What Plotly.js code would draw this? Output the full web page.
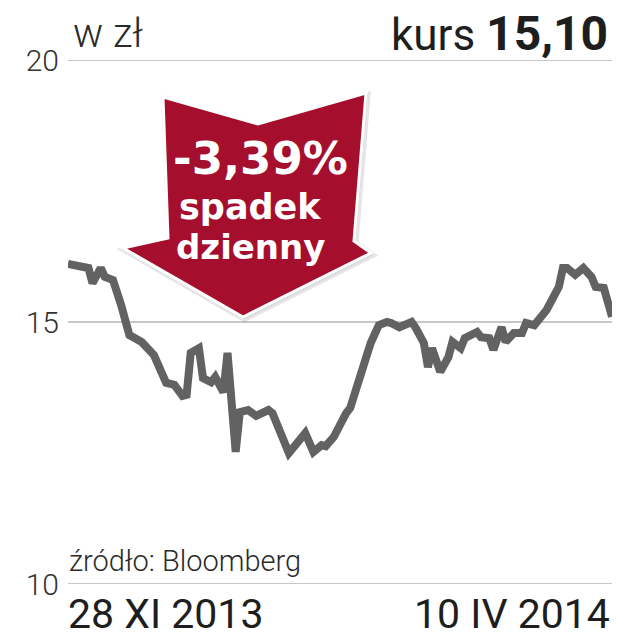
<!DOCTYPE html>
<html>
<head>
<meta charset="utf-8">
<script src="https://cdn.plot.ly/plotly-3.0.1.min.js"></script>
<style>
  html, body { margin: 0; padding: 0; background: #ffffff; }
  #chart { width: 628px; height: 640px; }
</style>
</head>
<body>
<div id="chart"></div>
<script>
// ---- data ----
const dates = [
  '2013-11-28','2013-12-01','2013-12-03','2013-12-04','2013-12-06','2013-12-07','2013-12-09','2013-12-11',
  '2013-12-13','2013-12-16','2013-12-19','2013-12-22','2013-12-24','2013-12-26','2013-12-27','2013-12-28',
  '2013-12-30','2013-12-31','2014-01-02','2014-01-03','2014-01-05','2014-01-06','2014-01-08','2014-01-09',
  '2014-01-11','2014-01-13','2014-01-16','2014-01-17','2014-01-21','2014-01-25','2014-01-27','2014-01-29',
  '2014-01-30','2014-02-01','2014-02-03','2014-02-04','2014-02-05','2014-02-07','2014-02-08','2014-02-10',
  '2014-02-12','2014-02-14','2014-02-15','2014-02-17','2014-02-20','2014-02-21','2014-02-23','2014-02-24',
  '2014-02-25','2014-02-27','2014-03-01','2014-03-02','2014-03-04','2014-03-05','2014-03-08','2014-03-09',
  '2014-03-11','2014-03-12','2014-03-14','2014-03-15','2014-03-17','2014-03-19','2014-03-20','2014-03-22',
  '2014-03-25','2014-03-26','2014-03-28','2014-03-29','2014-03-30','2014-04-01','2014-04-03','2014-04-05',
  '2014-04-06','2014-04-08','2014-04-10'
];
const prices = [
  16.11,16.07,16.03,15.74,16.03,15.86,15.80,15.32,
  14.75,14.62,14.37,13.84,13.80,13.59,13.61,14.41,
  14.50,13.93,13.85,13.95,13.66,14.41,12.52,13.28,
  13.32,13.21,13.32,13.26,12.50,12.88,12.52,12.65,
  12.63,12.81,13.17,13.26,13.36,13.84,14.18,14.60,
  14.94,15.00,14.98,14.90,15.00,14.89,14.60,14.14,
  14.50,14.05,14.33,14.62,14.50,14.69,14.81,14.71,
  14.69,14.47,14.90,14.62,14.79,14.79,14.98,14.94,
  15.23,15.36,15.67,16.03,16.03,15.90,16.03,15.86,
  15.67,15.65,15.10
];
const yTickVals = [10, 15, 20];
const yTickText = ['10', '15', '20'];
const xRange = ['2013-11-28', '2014-04-10'];
const xEndLabels = ['28 XI 2013', '10 IV 2014'];
const unitLabel = 'w zł';
const lastPriceLabel = '15,10';
const dailyChange = '-3,39%';
const changeWords = ['spadek', 'dzienny'];
const sourceLabel = 'źródło: Bloomberg';

// ---- geometry helpers (pixel -> paper) ----
const W = 628, H = 640, ML = 68, MR = 16, MT = 60, MB = 56;
const PW = W - ML - MR, PH = H - MT - MB;
const px = x => (x - ML) / PW;
const py = y => (H - MB - y) / PH;

// arrow outline in pixels
const arrowPts = [[163,97],[258,124],[366,93],[354,241],[371,253],[243,317],[123,248],[168,238]];
const arrowPath = 'M ' + arrowPts.map(p => px(p[0]).toFixed(4) + ',' + py(p[1]).toFixed(4)).join(' L ') + ' Z';
const shadowPath = 'M ' + arrowPts.map(p => px(p[0] + 1.5).toFixed(4) + ',' + py(p[1] + 2).toFixed(4)).join(' L ') + ' Z';

const lightFont = { family: 'Roboto, "Open Sans", sans-serif', color: '#2a2a2a', weight: 300 };

const trace = {
  type: 'scatter',
  mode: 'lines',
  x: dates,
  y: prices,
  line: { color: '#626262', width: 8, shape: 'linear' },
  cliponaxis: false,
  hoverinfo: 'skip'
};

const gridShapes = yTickVals.map(v => ({
  type: 'line', xref: 'paper', yref: 'y', x0: 0, x1: 1, y0: v, y1: v,
  line: { color: '#b4b4b4', width: 1.5 }, layer: 'below'
}));

const layout = {
  width: W, height: H,
  margin: { l: ML, r: MR, t: MT, b: MB, pad: 0 },
  paper_bgcolor: '#ffffff',
  plot_bgcolor: '#ffffff',
  showlegend: false,
  xaxis: {
    type: 'date', range: xRange,
    showgrid: false, zeroline: false, showline: false, showticklabels: false, ticks: ''
  },
  yaxis: {
    range: [10, 20], tickvals: yTickVals, ticktext: yTickText,
    showgrid: false, zeroline: false, showline: false, ticks: '',
    ticklabelstandoff: 8,
    tickfont: Object.assign({}, lightFont, { size: 30, color: '#333333' })
  },
  shapes: gridShapes.concat([
    { type: 'path', xref: 'paper', yref: 'paper', path: shadowPath,
      fillcolor: 'rgba(0,0,0,0.10)', line: { color: 'rgba(0,0,0,0.10)', width: 6 }, layer: 'above' },
    { type: 'path', xref: 'paper', yref: 'paper', path: arrowPath,
      fillcolor: '#a50f2d', line: { color: '#ffffff', width: 3 }, layer: 'above' }
  ]),
  annotations: [
    { xref: 'paper', yref: 'paper', x: px(71), y: py(34), xanchor: 'left', yanchor: 'middle',
      text: unitLabel, showarrow: false, font: Object.assign({}, lightFont, { size: 40, color: '#2a2a2a' }) },
    { xref: 'paper', yref: 'paper', x: px(610), y: py(33), xanchor: 'right', yanchor: 'middle',
      text: 'kurs <b style="font-size:48px">' + lastPriceLabel + '</b>', showarrow: false,
      font: { family: 'Roboto, sans-serif', size: 44, color: '#1e1e1e' } },
    { xref: 'paper', yref: 'paper', x: px(67), y: py(561), xanchor: 'left', yanchor: 'middle',
      text: sourceLabel, showarrow: false, font: Object.assign({}, lightFont, { size: 29, color: '#2a2a2a' }) },
    { xref: 'paper', yref: 'paper', x: px(66), y: py(614), xanchor: 'left', yanchor: 'middle',
      text: xEndLabels[0], showarrow: false, font: { family: 'Roboto, sans-serif', size: 41, color: '#1e1e1e' } },
    { xref: 'paper', yref: 'paper', x: px(612), y: py(614), xanchor: 'right', yanchor: 'middle',
      text: xEndLabels[1], showarrow: false, font: { family: 'Roboto, sans-serif', size: 41, color: '#1e1e1e' } },
    { xref: 'paper', yref: 'paper', x: px(260), y: py(158), xanchor: 'center', yanchor: 'middle',
      text: '<b>' + dailyChange + '</b>', showarrow: false,
      font: { family: '"DejaVu Sans", sans-serif', size: 45, color: '#ffffff' } },
    { xref: 'paper', yref: 'paper', x: px(250), y: py(207), xanchor: 'center', yanchor: 'middle',
      text: '<b>' + changeWords[0] + '</b>', showarrow: false,
      font: { family: '"DejaVu Sans", sans-serif', size: 35, color: '#ffffff' } },
    { xref: 'paper', yref: 'paper', x: px(250), y: py(247), xanchor: 'center', yanchor: 'middle',
      text: '<b>' + changeWords[1] + '</b>', showarrow: false,
      font: { family: '"DejaVu Sans", sans-serif', size: 34, color: '#ffffff' } }
  ]
};

Plotly.newPlot('chart', [trace], layout, { staticPlot: true, displayModeBar: false });
</script>
</body>
</html>
